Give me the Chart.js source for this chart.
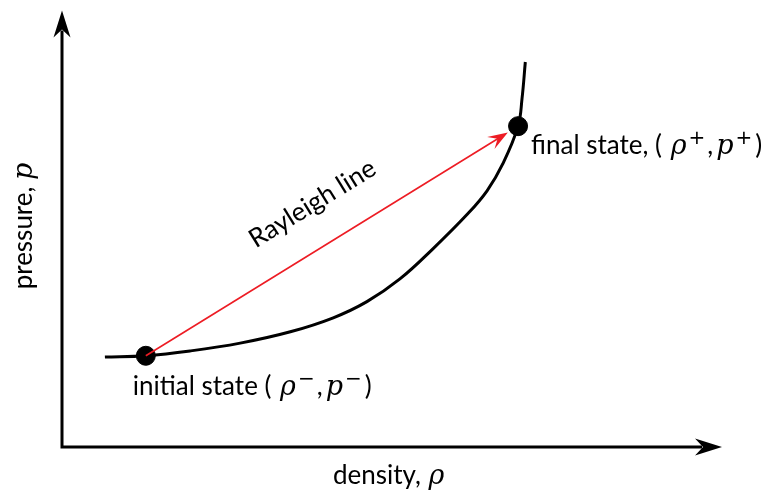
<!DOCTYPE html>
<html>
<head>
<meta charset="utf-8">
<script src="https://cdn.jsdelivr.net/npm/chart.js@4.4.1/dist/chart.umd.min.js"></script>
<style>
  html, body { margin: 0; padding: 0; background: #fff; }
  #wrap { width: 770px; height: 496px; }
</style>
</head>
<body>
<div id="wrap"><canvas id="diagram"></canvas></div>
<script>
// Hugoniot curve, density vs pressure (arbitrary units)
const curveDensity  = [0.65, 1.27, 1.94, 2.70, 3.46, 4.11, 4.62, 5.12, 5.62, 6.14, 6.44, 6.68, 6.91, 6.97, 7.02];
const curvePressure = [2.06, 2.09, 2.20, 2.38, 2.64, 2.96, 3.33, 3.85, 4.54, 5.33, 5.87, 6.49, 7.35, 7.98, 8.82];

// initial and final states
const stateDensity  = [1.27, 6.91];
const statePressure = [2.09, 7.35];

const axisMax = [10, 10];

const TEXT_FONT = '26px Lato';
const MATH_FONT = 'italic 27px "DejaVu Serif"';
const SUP_FONT = '20px "DejaVu Sans"';

// draws a run of text pieces one after another, returns the end x
function drawRun(ctx, parts, x, y) {
    ctx.textAlign = 'left';
    ctx.textBaseline = 'alphabetic';
    parts.forEach(p => {
        ctx.font = p.font;
        ctx.fillText(p.t, x, y - (p.rise || 0));
        x += ctx.measureText(p.t).width + (p.gap || 0);
    });
    return x;
}

function stateLabel(prefix, sign) {
    return [
        { t: prefix + '( ', font: TEXT_FONT, gap: 2 },
        { t: 'ρ', font: MATH_FONT, gap: 2 },
        { t: sign, font: SUP_FONT, rise: 10, gap: 2 },
        { t: ',', font: TEXT_FONT, gap: 3 },
        { t: 'p', font: MATH_FONT, gap: 2 },
        { t: sign, font: SUP_FONT, rise: 10, gap: 3 },
        { t: ')', font: TEXT_FONT }
    ];
}

function arrowHead(ctx, tipX, tipY, angle, len, half, notch) {
    ctx.save();
    ctx.translate(tipX, tipY);
    ctx.rotate(angle);
    ctx.beginPath();
    ctx.moveTo(0, 0);
    ctx.lineTo(-len, -half);
    ctx.lineTo(-len + notch, 0);
    ctx.lineTo(-len, half);
    ctx.closePath();
    ctx.fill();
    ctx.restore();
}

const annotations = {
    id: 'annotations',
    afterDatasetsDraw(chart) {
        const { ctx, chartArea: a, scales: { x, y } } = chart;
        ctx.save();

        // axes with arrow heads
        ctx.strokeStyle = '#000';
        ctx.fillStyle = '#000';
        ctx.lineWidth = 3;
        ctx.beginPath();
        ctx.moveTo(a.left, a.top + 20);
        ctx.lineTo(a.left, a.bottom);
        ctx.lineTo(a.right - 20, a.bottom);
        ctx.stroke();
        arrowHead(ctx, a.left, a.top, -Math.PI / 2, 27, 8.5, 8);
        arrowHead(ctx, a.right, a.bottom, 0, 27, 8.5, 8);

        // Rayleigh line from initial to final state
        const x0 = x.getPixelForValue(stateDensity[0]);
        const y0 = y.getPixelForValue(statePressure[0]);
        const x1 = x.getPixelForValue(stateDensity[1]);
        const y1 = y.getPixelForValue(statePressure[1]);
        const ang = Math.atan2(y1 - y0, x1 - x0);
        const tipX = x1 - 12 * Math.cos(ang);
        const tipY = y1 - 12 * Math.sin(ang);
        ctx.strokeStyle = '#ed1c24';
        ctx.fillStyle = '#ed1c24';
        ctx.lineWidth = 1.6;
        ctx.beginPath();
        ctx.moveTo(x0, y0);
        ctx.lineTo(tipX - 10 * Math.cos(ang), tipY - 10 * Math.sin(ang));
        ctx.stroke();
        arrowHead(ctx, tipX, tipY, ang, 20, 7, 8);

        // label along the line
        const mx = (x0 + tipX) / 2, my = (y0 + tipY) / 2;
        ctx.save();
        ctx.translate(mx + 9 * Math.cos(ang) + 42 * Math.sin(ang),
                      my + 9 * Math.sin(ang) - 42 * Math.cos(ang));
        ctx.rotate(ang);
        ctx.fillStyle = '#000';
        ctx.font = TEXT_FONT;
        ctx.textAlign = 'center';
        ctx.textBaseline = 'middle';
        ctx.fillText('Rayleigh line', 0, 0);
        ctx.restore();

        // state labels
        ctx.fillStyle = '#000';
        drawRun(ctx, stateLabel('initial state ', '−'), x0 - 13, y0 + 39);
        drawRun(ctx, stateLabel('final state, ', '+'), x1 + 13, y1 + 28);

        // axis titles
        drawRun(ctx, [
            { t: 'density, ', font: TEXT_FONT, gap: 1 },
            { t: 'ρ', font: MATH_FONT }
        ], 333, a.bottom + 37);

        ctx.save();
        ctx.translate(32, 226);
        ctx.rotate(-Math.PI / 2);
        ctx.font = TEXT_FONT;
        const w1 = ctx.measureText('pressure, ').width;
        ctx.font = MATH_FONT;
        const w2 = ctx.measureText('p').width;
        drawRun(ctx, [
            { t: 'pressure, ', font: TEXT_FONT },
            { t: 'p', font: MATH_FONT }
        ], -(w1 + w2) / 2, 0);
        ctx.restore();

        ctx.restore();
    }
};

new Chart(document.getElementById('diagram'), {
    type: 'scatter',
    data: {
        datasets: [
            {
                label: 'Hugoniot',
                data: curveDensity.map((v, i) => ({ x: v, y: curvePressure[i] })),
                showLine: true,
                borderColor: '#000',
                borderWidth: 3,
                pointRadius: 0,
                tension: 0.4
            },
            {
                label: 'states',
                data: stateDensity.map((v, i) => ({ x: v, y: statePressure[i] })),
                backgroundColor: '#000',
                borderColor: '#000',
                pointRadius: 9.5
            }
        ]
    },
    options: {
        responsive: true,
        maintainAspectRatio: false,
        animation: false,
        layout: { padding: { left: 62, right: 48, top: 6, bottom: 49 } },
        plugins: {
            legend: { display: false },
            tooltip: { enabled: false }
        },
        scales: {
            x: { type: 'linear', min: 0, max: axisMax[0], display: false },
            y: { type: 'linear', min: 0, max: axisMax[1], display: false }
        }
    },
    plugins: [annotations]
});
</script>
</body>
</html>
